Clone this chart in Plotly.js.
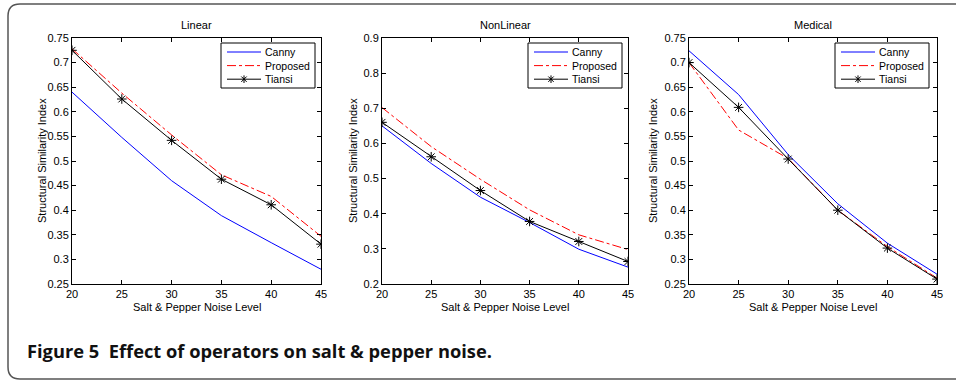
<!DOCTYPE html>
<html>
<head>
<meta charset="utf-8">
<script src="https://cdn.plot.ly/plotly-3.0.1.min.js"></script>
<style>html,body{margin:0;padding:0;background:#fff;}#chart{width:956px;height:380px;}</style>
</head>
<body>
<div id="chart"></div>
<script>
// ---- data ----
const noiseLevels = [20, 25, 30, 35, 40, 45];
const seriesNames = ['Canny', 'Proposed', 'Tiansi'];
const panelTitles = ['Linear', 'NonLinear', 'Medical'];

const linearCanny    = [0.640, 0.548, 0.460, 0.389, 0.334, 0.280];
const linearProposed = [0.728, 0.638, 0.553, 0.472, 0.428, 0.347];
const linearTiansi   = [0.725, 0.626, 0.542, 0.463, 0.411, 0.331];

const nonlinCanny    = [0.650, 0.543, 0.447, 0.375, 0.299, 0.248];
const nonlinProposed = [0.702, 0.591, 0.498, 0.411, 0.340, 0.298];
const nonlinTiansi   = [0.660, 0.562, 0.466, 0.378, 0.321, 0.264];

const medicalCanny    = [0.724, 0.635, 0.513, 0.413, 0.333, 0.270];
const medicalProposed = [0.700, 0.563, 0.505, 0.400, 0.326, 0.262];
const medicalTiansi   = [0.700, 0.609, 0.504, 0.400, 0.323, 0.260];

const xTickVals = [20, 25, 30, 35, 40, 45];
const xTickText = ['20', '25', '30', '35', '40', '45'];
const yTicksA = [0.25, 0.3, 0.35, 0.4, 0.45, 0.5, 0.55, 0.6, 0.65, 0.7, 0.75];
const yTextA  = ['0.25','0.3','0.35','0.4','0.45','0.5','0.55','0.6','0.65','0.7','0.75'];
const yTicksB = [0.2, 0.3, 0.4, 0.5, 0.6, 0.7, 0.8, 0.9];
const yTextB  = ['0.2','0.3','0.4','0.5','0.6','0.7','0.8','0.9'];

const xTitle = 'Salt &amp; Pepper Noise Level';
const yTitle = 'Structural Similarity Index';
const caption = 'Figure 5  Effect of operators on salt &amp; pepper noise.';

// ---- layout helpers (pixel -> paper) ----
const W = 956, H = 380;
const px = v => v / W;
const py = v => 1 - v / H;

const panels = [
  {l: 72,  r: 321, data: [linearCanny, linearProposed, linearTiansi], yt: yTicksA, ytt: yTextA, yr: [0.25, 0.75], legR: 315, yTitleX: 42},
  {l: 382, r: 628, data: [nonlinCanny, nonlinProposed, nonlinTiansi], yt: yTicksB, ytt: yTextB, yr: [0.2, 0.9], legR: 622, yTitleX: 353},
  {l: 689, r: 937, data: [medicalCanny, medicalProposed, medicalTiansi], yt: yTicksA, ytt: yTextA, yr: [0.25, 0.75], legR: 929, yTitleX: 653}
];
const plotTop = 38, plotBottom = 284;
const font = 'Liberation Sans, Arial, sans-serif';

const colors = ['#0000ff', '#ff0000', '#000000'];
const dashes = ['solid', 'dashdot', 'solid'];

const traces = [];
const layout = {
  width: W, height: H,
  margin: {l: 0, r: 0, t: 0, b: 0},
  paper_bgcolor: '#fff', plot_bgcolor: '#fff',
  showlegend: false,
  font: {family: font, size: 11, color: '#000'},
  annotations: [], shapes: []
};

panels.forEach((p, i) => {
  const n = i === 0 ? '' : String(i + 1);
  p.data.forEach((vals, k) => {
    const t = {
      type: 'scatter', x: noiseLevels, y: vals, name: seriesNames[k],
      xaxis: 'x' + n, yaxis: 'y' + n,
      mode: k === 2 ? 'lines+markers' : 'lines',
      line: {color: colors[k], width: 1, dash: dashes[k]}
    };
    if (k === 2) t.marker = {symbol: 'asterisk-open', size: 8, color: '#000', line: {color: '#000', width: 1}};
    traces.push(t);
  });
  const axCommon = {
    showline: true, mirror: 'ticks', linecolor: '#000', linewidth: 1,
    ticks: 'inside', ticklen: 4, tickcolor: '#000', showgrid: false, zeroline: false,
    tickfont: {family: font, size: 11, color: '#000'}
  };
  layout['xaxis' + n] = Object.assign({}, axCommon, {
    domain: [px(p.l), px(p.r)], range: [20, 45], tickmode: 'array',
    tickvals: xTickVals, ticktext: xTickText, anchor: 'y' + n
  });
  layout['yaxis' + n] = Object.assign({}, axCommon, {
    domain: [py(plotBottom), py(plotTop)], range: p.yr, tickmode: 'array',
    tickvals: p.yt, ticktext: p.ytt, anchor: 'x' + n
  });
  const cx = (p.l + p.r) / 2;
  layout.annotations.push(
    {text: panelTitles[i], xref: 'paper', yref: 'paper', x: px(cx), y: py(25), showarrow: false,
     xanchor: 'center', yanchor: 'middle', font: {family: font, size: 11, color: '#000'}},
    {text: xTitle, xref: 'paper', yref: 'paper', x: px(cx), y: py(307), showarrow: false,
     xanchor: 'center', yanchor: 'middle', font: {family: font, size: 11, color: '#000'}},
    {text: yTitle, xref: 'paper', yref: 'paper', x: px(p.yTitleX), y: py((plotTop + plotBottom) / 2), showarrow: false,
     textangle: -90, xanchor: 'center', yanchor: 'middle', font: {family: font, size: 11, color: '#000'}}
  );

  // legend box (compact, MATLAB style)
  const bl = p.legR - 94, br = p.legR, bt = 43, bb = 88;
  layout.shapes.push({type: 'rect', xref: 'paper', yref: 'paper',
    x0: px(bl), x1: px(br), y0: py(bb), y1: py(bt),
    line: {color: '#000', width: 1}, fillcolor: '#fff', layer: 'above'});
  seriesNames.forEach((name, k) => {
    const yy = 52 + k * 13.6;
    const s0 = bl + 6, s1 = bl + 40;
    layout.shapes.push({type: 'line', xref: 'paper', yref: 'paper',
      x0: px(s0), x1: px(s1), y0: py(yy), y1: py(yy),
      line: {color: colors[k], width: 1, dash: dashes[k]}, layer: 'above'});
    if (k === 2) {
      const c = (s0 + s1) / 2, r = 3.8, d = 2.7;
      layout.shapes.push({type: 'path', xref: 'paper', yref: 'paper', layer: 'above',
        path: 'M ' + px(c) + ',' + py(yy - r) + ' L ' + px(c) + ',' + py(yy + r) +
              ' M ' + px(c - d) + ',' + py(yy - d) + ' L ' + px(c + d) + ',' + py(yy + d) +
              ' M ' + px(c - d) + ',' + py(yy + d) + ' L ' + px(c + d) + ',' + py(yy - d),
        line: {color: '#000', width: 1}});
    }
    layout.annotations.push({text: name, xref: 'paper', yref: 'paper', x: px(bl + 42), y: py(yy),
      showarrow: false, xanchor: 'left', yanchor: 'middle', font: {family: font, size: 10.5, color: '#000'}});
  });
});

layout.annotations.push({
  text: '<b>' + caption + '</b>', xref: 'paper', yref: 'paper', x: px(25), y: py(350),
  showarrow: false, xanchor: 'left', yanchor: 'middle',
  font: {family: 'Open Sans, sans-serif', size: 18.3, color: '#111'}
});

// rounded frame
const fl = 8, ft = 4, fb = 379, rr = 12;
layout.shapes.push({
  type: 'path', xref: 'paper', yref: 'paper', layer: 'below',
  path: 'M ' + px(W + 4) + ',' + py(ft) + ' L ' + px(fl + rr) + ',' + py(ft) +
        ' Q ' + px(fl) + ',' + py(ft) + ' ' + px(fl) + ',' + py(ft + rr) +
        ' L ' + px(fl) + ',' + py(fb - rr) +
        ' Q ' + px(fl) + ',' + py(fb) + ' ' + px(fl + rr) + ',' + py(fb) +
        ' L ' + px(W + 4) + ',' + py(fb),
  line: {color: '#555', width: 1.5}
});

Plotly.newPlot('chart', traces, layout, {staticPlot: true});
</script>
</body>
</html>
